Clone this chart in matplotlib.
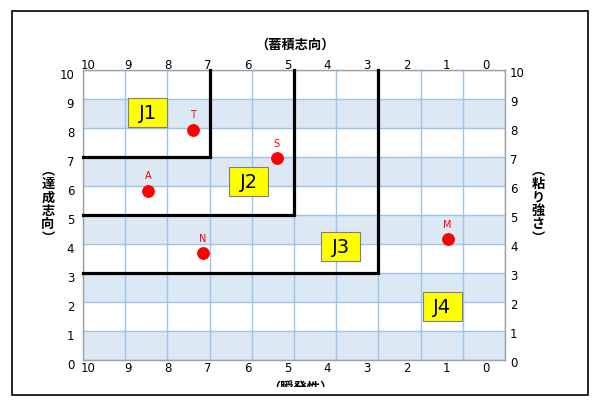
import numpy as np
import matplotlib
matplotlib.use("Agg")
import matplotlib.pyplot as plt
from matplotlib.patches import Rectangle
from matplotlib.transforms import Bbox, TransformedBbox

plt.rcParams['font.family'] = ['DejaVu Sans', 'Noto Sans CJK JP']
CJK = ['Noto Sans CJK JP', 'DejaVu Sans']

# ---- data ----
point_names = ['T', 'S', 'A', 'N', 'M']
point_x = [7.40, 5.41, 8.45, 7.16, 1.36]
point_y = [7.94, 6.95, 5.84, 3.69, 4.17]

zone_names = ['J1', 'J2', 'J3', 'J4']
zone_x = [8.47, 6.07, 3.89, 1.49]
zone_y = [8.53, 6.14, 3.90, 1.86]

boundary_x = [7, 5, 3]
boundary_y = [7, 5, 3]

x_tick_labels = ['10', '9', '8', '7', '6', '5', '4', '3', '2', '1', '0']
y_tick_labels = ['0', '1', '2', '3', '4', '5', '6', '7', '8', '9', '10']

title_top = '（蓄積志向）'
title_bottom = '（瞬発性）'
title_left = ['︵', '達', '成', '志', '向', '︶']
title_right = ['︵', '粘', 'り', '強', 'さ', '︶']

# ---- figure ----
fig = plt.figure(figsize=(6.0, 4.14), dpi=100)
W, H = 600, 414
ax = fig.add_axes([83 / W, 1 - 361 / H, 422 / W, 290 / H])
ax.set_xlim(10, 0)
ax.set_ylim(0, 10)

band = '#dde8f5'
for lo in range(0, 10, 2):
    ax.axhspan(lo, lo + 1, color=band, lw=0, zorder=0)

ax.set_xticks(range(11))
ax.set_yticks(range(11))
ax.tick_params(length=0, labelbottom=False, labelleft=False)
ax.grid(True, color='#9dc3e6', lw=1.0, zorder=1)
ax.set_axisbelow(True)
for s in ax.spines.values():
    s.set_color('#a0a0a0')
    s.set_linewidth(1.0)

# boundaries
for bx, by in zip(boundary_x, boundary_y):
    ax.plot([10, bx, bx], [by, by, 10], color='black', lw=2.3,
            solid_joinstyle='miter', zorder=3, clip_on=False)

# zone boxes
bw, bh = 0.92, 1.0
for name, cx, cy in zip(zone_names, zone_x, zone_y):
    ax.add_patch(Rectangle((cx - bw / 2, cy - bh / 2), bw, bh,
                           facecolor='#ffff00', edgecolor='#7f7f7f', lw=0.8, zorder=4))
    ax.text(cx, cy, name, ha='center', va='center', fontsize=14, color='black', zorder=5)

# points
ax.plot(point_x, point_y, 'o', color='#ff0000', ms=8.2, zorder=6, mec='#ff0000')
for name, px, py in zip(point_names, point_x, point_y):
    ax.annotate(name, (px, py), xytext=(0, 11), textcoords='offset points',
                ha='center', va='center', fontsize=7, color='#ff0000', zorder=7)

# tick labels as texts
xpos = np.linspace(9.87, 0.44, len(x_tick_labels))
xt = ax.get_xaxis_transform()
for xp, lab in zip(xpos, x_tick_labels):
    ax.text(xp, 1.007, lab, transform=xt, ha='center', va='baseline', fontsize=8.5, clip_on=False)
    ax.text(xp, -0.038, lab, transform=xt, ha='center', va='baseline', fontsize=8.5, clip_on=False)
yt = ax.get_yaxis_transform()
for i, lab in enumerate(y_tick_labels):
    ax.text(-0.021, i - 0.27, lab, transform=yt, ha='right', va='baseline', fontsize=8.5, clip_on=False)
    ax.text(1.012, i - 0.22, lab, transform=yt, ha='left', va='baseline', fontsize=8.5, clip_on=False)

# axis titles
fig.text(295 / W, 1 - 45 / H, title_top, ha='center', va='center', fontsize=9.5,
         fontweight='bold', family=CJK)
fig.text(48 / W, 1 - 204 / H, '\n'.join(title_left), ha='center', va='center', fontsize=9.5,
         fontweight='bold', family=CJK, linespacing=0.95)
fig.text(538 / W, 1 - 204 / H, '\n'.join(title_right), ha='center', va='center', fontsize=9.5,
         fontweight='bold', family=CJK, linespacing=0.95)
tb = fig.text(300 / W, 1 - 389 / H, title_bottom, ha='center', va='center', fontsize=9.5,
              fontweight='bold', family=CJK)
tb.set_clip_box(TransformedBbox(Bbox.from_extents(0, (H - 388) / 100, 6.0, 4.14), fig.dpi_scale_trans))
tb.set_clip_on(True)

# outer frame
fig.add_artist(Rectangle((12 / W, 1 - 396 / H), 576 / W, 384 / H, transform=fig.transFigure,
                         fill=False, edgecolor='black', lw=1.2))

fig.savefig('out.png', dpi=100)
